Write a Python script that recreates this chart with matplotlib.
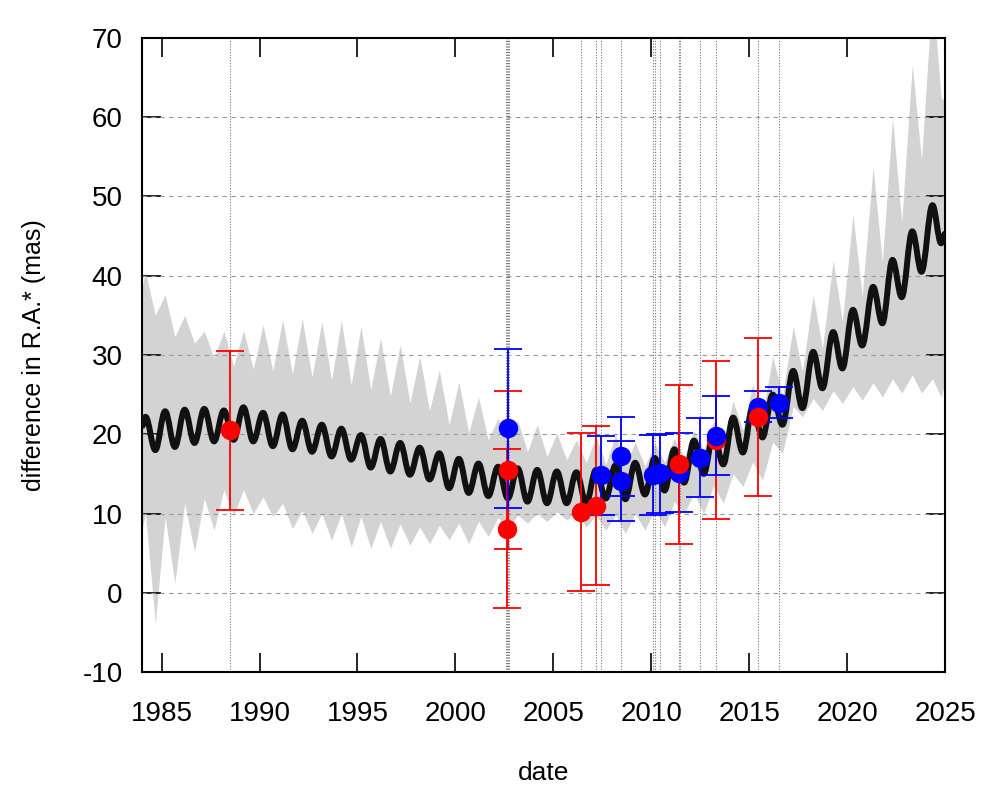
import matplotlib
matplotlib.use("Agg")
import matplotlib.pyplot as plt
from matplotlib.path import Path
from matplotlib.patches import PathPatch

# ---- model curve: extrema ----
curve_t = [1984.0, 1984.18, 1984.68, 1985.18, 1985.68, 1986.18, 1986.68, 1987.18, 1987.68,
           1988.18, 1988.68, 1989.18, 1989.68, 1990.18, 1990.68, 1991.18, 1991.68,
           1992.18, 1992.68, 1993.18, 1993.68, 1994.18, 1994.68, 1995.18, 1995.68,
           1996.18, 1996.68, 1997.18, 1997.68, 1998.18, 1998.68, 1999.18, 1999.68,
           2000.18, 2000.68, 2001.18, 2001.68, 2002.18, 2002.68, 2003.18, 2003.68,
           2004.18, 2004.68, 2005.18, 2005.68, 2006.18, 2006.68, 2007.18, 2007.68,
           2008.18, 2008.68, 2009.18, 2009.68, 2010.18, 2010.68, 2011.18, 2011.68,
           2012.18, 2012.68, 2013.18, 2013.68, 2014.18, 2014.68, 2015.18, 2015.68,
           2016.2, 2016.7, 2017.25, 2017.72, 2018.27, 2018.74, 2019.29, 2019.76,
           2020.3, 2020.77, 2021.33, 2021.8, 2022.32, 2022.79, 2023.33, 2023.8,
           2024.36, 2024.8, 2025.0]
curve_v = [21.0, 22.2, 18.0, 22.9, 18.4, 23.1, 18.9, 23.2, 19.1,
           23.0, 19.3, 23.4, 19.1, 22.7, 18.5, 22.5, 18.1,
           21.7, 17.8, 21.2, 17.2, 20.7, 16.8, 19.9, 15.8,
           19.4, 15.3, 18.9, 14.9, 18.3, 14.3, 17.6, 13.2,
           16.9, 12.6, 16.3, 12.2, 15.9, 11.9, 15.7, 11.5,
           15.5, 11.3, 15.3, 11.3, 15.2, 11.3, 15.5, 11.9,
           16.1, 11.8, 16.4, 12.4, 17.0, 12.9, 18.1, 13.9,
           19.2, 15.0, 20.0, 16.2, 22.1, 17.7, 23.4, 19.6,
           25.0, 21.2, 28.0, 23.3, 30.4, 25.8, 32.9, 28.3,
           35.7, 31.2, 38.6, 34.0, 42.0, 37.3, 45.6, 40.5,
           48.9, 44.1, 45.3]
band_hi = [38.5, 40.5, 35.0, 37.6, 32.3, 35.0, 31.5, 33.0, 29.6,
           33.0, 28.6, 33.1, 28.2, 33.8, 28.0, 34.4, 27.6,
           34.6, 27.2, 34.2, 26.8, 34.4, 26.2, 33.6, 25.6,
           32.1, 24.8, 31.3, 24.0, 29.8, 23.0, 28.1, 21.2,
           26.6, 20.2, 24.7, 19.3, 22.0, 18.6, 21.8, 17.8,
           21.2, 17.2, 20.1, 16.8, 19.3, 16.4, 19.7, 16.2,
           20.0, 16.0, 19.0, 16.0, 18.8, 16.5, 19.5, 17.0,
           20.5, 18.0, 21.7, 19.0, 24.2, 20.5, 26.3, 22.3,
           29.8, 24.9, 33.6, 27.9, 37.6, 30.8, 42.0, 34.2,
           47.7, 37.5, 53.7, 41.7, 59.9, 46.8, 66.6, 54.6,
           76.0, 62.5, 62.0]
band_lo = [8.0, 10.0, -3.9, 9.6, 1.2, 11.3, 5.2, 11.9, 7.9,
           13.0, 9.8, 13.0, 10.0, 12.1, 9.6, 11.3, 8.1,
           10.4, 7.5, 10.0, 6.6, 10.0, 5.8, 9.6, 5.6,
           9.0, 5.6, 8.7, 6.0, 8.3, 6.2, 8.5, 6.7,
           8.8, 6.2, 9.0, 7.1, 9.5, 7.9, 9.8, 8.8,
           10.0, 9.0, 10.2, 9.2, 10.0, 8.3, 9.8, 7.9,
           9.8, 7.5, 10.0, 7.9, 10.5, 8.3, 11.5, 10.0,
           12.5, 10.0, 13.5, 11.3, 15.0, 13.4, 16.5, 14.2,
           19.0, 17.6, 23.5, 22.2, 24.5, 23.0, 25.5, 23.9,
           26.0, 24.3, 26.5, 24.7, 27.0, 25.2, 27.5, 25.2,
           27.0, 24.7, 26.5]

# ---- observations ----
red_x = [1988.5, 2002.62, 2002.68, 2006.43, 2007.2, 2013.32]
red_y = [20.5, 8.1, 15.5, 10.2, 11.0, 19.3]
red_e = [10, 10, 10, 10, 10, 10]

blue_x = [2002.7, 2007.43, 2008.45, 2008.45, 2010.09, 2010.46, 2011.43,
          2012.5, 2013.32, 2015.45, 2016.5]
blue_y = [20.75, 14.8, 17.2, 14.1, 14.86, 15.07, 15.15, 17.05, 19.8, 23.5, 24.0]
blue_e = [10, 5, 5, 5, 5, 5, 5, 5, 5, 2, 2]

red2_x = [2011.43, 2015.45]
red2_y = [16.2, 22.2]
red2_e = [10, 10]

obs_dates = [1988.5, 2002.6, 2002.65, 2002.7, 2002.75, 2006.43, 2007.2, 2007.43,
             2008.45, 2010.09, 2010.2, 2010.46, 2011.43, 2011.47, 2012.5, 2013.32,
             2015.45, 2016.5]

x_ticks = [1985, 1990, 1995, 2000, 2005, 2010, 2015, 2020, 2025]
y_ticks = [-10, 0, 10, 20, 30, 40, 50, 60, 70]

plt.rcParams['font.family'] = ['Liberation Sans', 'DejaVu Sans']
plt.rcParams['axes.unicode_minus'] = False

fig = plt.figure(figsize=(10, 8), dpi=100)
ax = fig.add_axes([0.142, 0.16, 0.803, 0.7925])

ax.fill_between(curve_t, band_lo, band_hi, color='#d3d3d3', lw=0, zorder=1)
for d in obs_dates:
    ax.axvline(d, color='#777777', lw=0.8, ls=(0, (1, 1.5)), zorder=2)
for yv in y_ticks[1:-1]:
    ax.axhline(yv, color='#999999', lw=0.8, ls=(0, (4, 4)), zorder=2)

# smooth curve through the extrema (horizontal tangents at each extremum)
verts = [(curve_t[0], curve_v[0])]
codes = [Path.MOVETO]
for i in range(1, len(curve_t)):
    t0, v0 = curve_t[i - 1], curve_v[i - 1]
    t1, v1 = curve_t[i], curve_v[i]
    dt = t1 - t0
    verts += [(t0 + 0.364 * dt, v0), (t1 - 0.364 * dt, v1), (t1, v1)]
    codes += [Path.CURVE4] * 3
ax.add_patch(PathPatch(Path(verts, codes), fill=False, edgecolor='#111111',
                       lw=4.3, joinstyle='round', zorder=3))

ek = dict(fmt='o', ms=13, capsize=10, elinewidth=1.3, capthick=1.3, zorder=5)
ax.errorbar(red_x, red_y, yerr=red_e, color='#ff0000', **ek)
ax.errorbar(blue_x, blue_y, yerr=blue_e, color='#0000ff', **ek)
ax.errorbar(red2_x, red2_y, yerr=red2_e, color='#ff0000', **ek)

ax.set_xlim(1984.0, 2025.0)
ax.set_ylim(-10, 70)
ax.set_xticks(x_ticks)
ax.set_yticks(y_ticks)
ax.tick_params(direction='in', length=14, width=1.2, top=True, right=True,
               labelsize=20)
ax.tick_params(axis='x', pad=21)
ax.tick_params(axis='y', pad=14)
for s in ax.spines.values():
    s.set_linewidth(1.5)

ax.set_xlabel('date', fontsize=19, labelpad=24)
ax.set_ylabel('difference in R.A.* (mas)', fontsize=18, labelpad=26)

fig.savefig('out.png', dpi=100)
